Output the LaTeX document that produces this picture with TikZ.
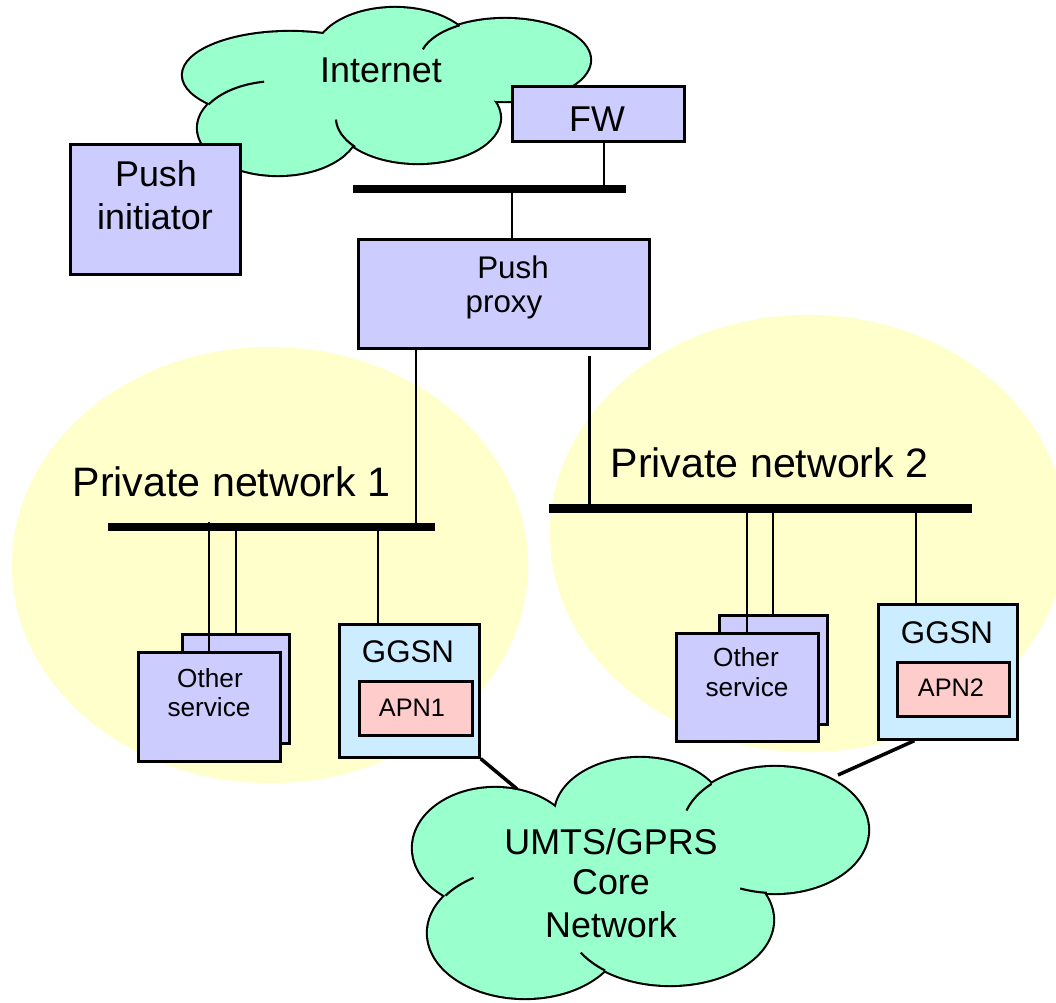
\documentclass[tikz,border=0pt]{standalone}
\usepackage{fontspec}
\setmainfont{Liberation Sans}
\usetikzlibrary{calc}
\definecolor{cloudgreen}{HTML}{99FFCC}
\definecolor{boxblue}{HTML}{CCCCFF}
\definecolor{ggsnblue}{HTML}{CCECFF}
\definecolor{apnpink}{HTML}{FFCCCC}
\definecolor{pnyellow}{HTML}{FFFFCC}
\begin{document}
\begin{tikzpicture}[x=0.01cm,y=-0.01cm,
  box/.style={draw=black, line width=0.75pt, inner sep=0pt, anchor=north west, fill=boxblue},
  bus/.style={fill=black, inner sep=0pt, minimum height=0.08cm},
  wire/.style={draw=black, line width=0.6pt},
  link/.style={draw=black, line width=1pt},
  cl/.style={draw=black, line width=0.6pt},
  lbl/.style={inner sep=0pt, anchor=base},
  fbig/.style={font=\fontsize{11.7pt}{13pt}\selectfont},
  fmid/.style={font=\fontsize{10.2pt}{12pt}\selectfont},
  fnorm/.style={font=\fontsize{8.9pt}{10pt}\selectfont},
  fsmall/.style={font=\fontsize{7.45pt}{9pt}\selectfont},
  fapn/.style={font=\fontsize{7.2pt}{9pt}\selectfont}]
\clip (0,0) rectangle (1056,1003);
\fill[white] (0,0) rectangle (1056,1003);

% private network areas
\fill[pnyellow] (270,565) ellipse [x radius=2.58cm, y radius=2.18cm];
\fill[pnyellow] (808,533.5) ellipse [x radius=2.58cm, y radius=2.185cm];

% Internet cloud
\foreach \cx/\cy/\rx/\ry in {290/75/1.07cm/0.43cm, 395/55/0.80cm/0.47cm, 505/60/0.85cm/0.41cm, 278/128/0.80cm/0.47cm, 418/118/0.82cm/0.45cm}
  \draw[line width=1.2pt] (\cx,\cy) ellipse [x radius=\rx, y radius=\ry];
\foreach \cx/\cy/\rx/\ry in {290/75/1.07cm/0.43cm, 395/55/0.80cm/0.47cm, 505/60/0.85cm/0.41cm, 278/128/0.80cm/0.47cm, 418/118/0.82cm/0.45cm, 360/95/0.9cm/0.4cm}
  \fill[cloudgreen] (\cx,\cy) ellipse [x radius=\rx, y radius=\ry];
\draw[cl] ([shift={(100:0.80cm and 0.47cm)}]278,128) arc[start angle=100, end angle=150, x radius=0.80cm, y radius=0.47cm];
\draw[cl] ([shift={(122:0.85cm and 0.41cm)}]505,60) arc[start angle=122, end angle=165, x radius=0.85cm, y radius=0.41cm];
\draw[cl] ([shift={(182:0.82cm and 0.45cm)}]418,118) arc[start angle=182, end angle=220, x radius=0.82cm, y radius=0.45cm];

% UMTS cloud
\foreach \cx/\cy/\rx/\ry in {495/848/0.82cm/0.60cm, 640/815/0.85cm/0.57cm, 775/830/0.93cm/0.63cm, 525/933/0.97cm/0.65cm, 670/920/1.03cm/0.65cm}
  \draw[line width=1.2pt] (\cx,\cy) ellipse [x radius=\rx, y radius=\ry];
\foreach \cx/\cy/\rx/\ry in {495/848/0.82cm/0.60cm, 640/815/0.85cm/0.57cm, 775/830/0.93cm/0.63cm, 525/933/0.97cm/0.65cm, 670/920/1.03cm/0.65cm, 600/875/0.8cm/0.5cm}
  \fill[cloudgreen] (\cx,\cy) ellipse [x radius=\rx, y radius=\ry];
\draw[cl] ([shift={(133:0.93cm and 0.63cm)}]775,830) arc[start angle=133, end angle=162, x radius=0.93cm, y radius=0.63cm];
\draw[cl] ([shift={(265:0.93cm and 0.63cm)}]775,830) arc[start angle=265, end angle=248, x radius=0.93cm, y radius=0.63cm];
\draw[cl] ([shift={(122:0.97cm and 0.65cm)}]525,933) arc[start angle=122, end angle=145, x radius=0.97cm, y radius=0.65cm];
\draw[cl] ([shift={(210:1.03cm and 0.65cm)}]670,920) arc[start angle=210, end angle=231, x radius=1.03cm, y radius=0.65cm];

% boxes
\node[box, minimum width=1.70cm, minimum height=1.30cm] (pi) at (69,143) {};
\node[box, minimum width=1.72cm, minimum height=0.55cm] (fw) at (511,85) {};
\node[box, minimum width=2.91cm, minimum height=1.09cm] (proxy) at (357,238) {};
\node[box, minimum width=1.07cm, minimum height=1.09cm] (os1b) at (181,633) {};
\node[box, minimum width=1.42cm, minimum height=1.09cm] (os1f) at (137,651) {};
\node[box, fill=ggsnblue, minimum width=1.40cm, minimum height=1.33cm] (g1) at (338,623) {};
\node[box, fill=apnpink, minimum width=1.13cm, minimum height=0.54cm] (apn1) at (358,680) {};
\node[box, minimum width=1.08cm, minimum height=1.09cm] (os2b) at (718,614) {};
\node[box, minimum width=1.42cm, minimum height=1.08cm] (os2f) at (675,632) {};
\node[box, fill=ggsnblue, minimum width=1.39cm, minimum height=1.35cm] (g2) at (877,603) {};
\node[box, fill=apnpink, minimum width=1.12cm, minimum height=0.54cm] (apn2) at (896,661) {};

% buses
\node[bus, minimum width=2.73cm] (bar0) at (489.5,189) {};
\node[bus, minimum width=3.27cm] (bar1) at (271.5,527) {};
\node[bus, minimum width=4.23cm] (bar2) at (760.5,508.5) {};

% connectors
\coordinate (fwo) at ([xshift=0.06cm]fw.south);
\draw[wire] (fwo) -- (fwo |- bar0.center);
\coordinate (b0p) at ([xshift=0.085cm]proxy.north);
\draw[wire] (b0p) -- (b0p |- bar0.center);
\coordinate (ppl) at ([xshift=-0.875cm]proxy.south);
\draw[wire] (ppl) -- (ppl |- bar1.center);
\coordinate (ppr) at ([xshift=0.855cm,yshift=-0.06cm]proxy.south);
\draw[wire] (ppr) -- (ppr |- bar2.center);
\draw[wire] (os1f.north) -- (os1f.north |- bar1.north);
\draw[wire] (os1b.north) -- (os1b.north |- bar1.center);
\coordinate (g1t) at ([xshift=-0.31cm]g1.north);
\draw[wire] (g1t) -- (g1t |- bar1.center);
\draw[wire] (os2f.north) -- (os2f.north |- bar2.north);
\draw[wire] (os2b.north) -- (os2b.north |- bar2.center);
\coordinate (g2t) at ([xshift=-0.315cm]g2.north);
\draw[wire] (g2t) -- (g2t |- bar2.center);
\coordinate (c1) at (517,789);
\draw[link] (g1.south east) -- (c1);
\coordinate (c2) at (838,775);
\coordinate (g2b) at ([xshift=-0.335cm]g2.south);
\draw[link] (g2b) -- (c2);

% texts
\node[lbl, fmid] (tinet) at (381,83) {Internet};
\node[lbl, fmid] (tfw) at (597,131) {FW};
\node[lbl, fmid] (tpi1) at (156,187) {Push};
\node[lbl, fmid] (tpi2) at (155,230) {initiator};
\node[lbl, fnorm] (tpp1) at (513,279) {Push};
\node[lbl, fnorm] (tpp2) at (504,313) {proxy};
\node[lbl, fbig, anchor=base west] (tpn1) at (72,497) {Private network 1};
\node[lbl, fbig, anchor=base west] (tpn2) at (610,478) {Private network 2};
\node[lbl, fsmall] (tos1a) at (210,688) {Other};
\node[lbl, fsmall] (tos1b) at (209,717) {service};
\node[lbl, fnorm] (tg1) at (408,663) {GGSN};
\node[lbl, fapn] (tapn1) at (412,717) {APN1};
\node[lbl, fsmall] (tos2a) at (746,667) {Other};
\node[lbl, fsmall] (tos2b) at (747,697) {service};
\node[lbl, fnorm] (tg2) at (947,644) {GGSN};
\node[lbl, fapn] (tapn2) at (951,697) {APN2};
\node[lbl, fmid] (tu1) at (611,855) {UMTS/GPRS};
\node[lbl, fmid] (tu2) at (611,895) {Core};
\node[lbl, fmid] (tu3) at (611,938) {Network};
\end{tikzpicture}
\end{document}
